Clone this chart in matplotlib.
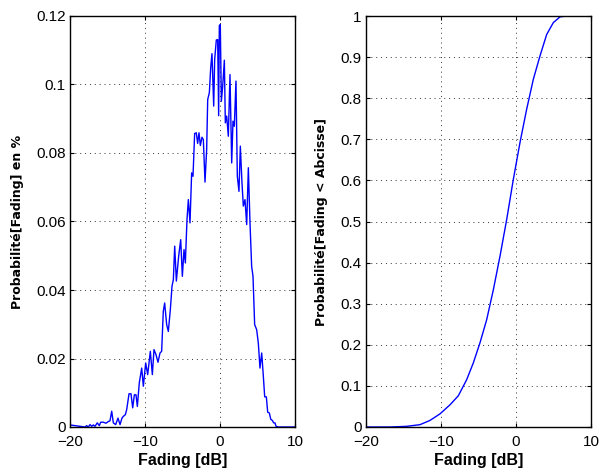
import matplotlib
matplotlib.use("Agg")
import matplotlib.pyplot as plt

# left panel: fading histogram (dB, probability)
pdf_x = [-20, -18.0, -17.78, -17.56, -17.33, -17.1, -16.89, -16.67, -16.36, -16.09,
         -15.91, -15.56, -15.2, -14.89, -14.67, -14.44, -14.22, -13.91, -13.6, -13.33,
         -13.07, -12.89, -12.62, -12.44, -12.13, -11.87, -11.64, -11.42, -11.2, -11.02,
         -10.76, -10.44, -10.22, -9.91, -9.64, -9.29, -9.02, -8.8, -8.53, -8.27,
         -8.0, -7.78, -7.56, -7.38, -7.11, -6.89, -6.62, -6.4, -6.22, -6.04,
         -5.82, -5.51, -5.24, -5.02, -4.8, -4.62, -4.4, -4.22, -4.0, -3.78,
         -3.6, -3.38, -3.16, -2.98, -2.8, -2.62, -2.4, -2.22, -2.0, -1.78,
         -1.64, -1.42, -1.24, -1.07, -0.84, -0.71, -0.49, -0.31, -0.18, -0.09,
         0.04, 0.18, 0.36, 0.58, 0.71, 0.89, 1.11, 1.33, 1.56, 1.73,
         1.91, 2.13, 2.31, 2.53, 2.71, 2.93, 3.11, 3.33, 3.56, 3.78,
         4.0, 4.22, 4.4, 4.62, 4.89, 5.11, 5.33, 5.56, 5.78, 5.96,
         6.18, 6.36, 6.58, 6.76, 6.98, 7.16, 7.33, 7.47, 7.78, 10]
pdf_y = [0.0006, 0, 0.0004, 0, 0.0007, 0.0002, 0.0006, 0.0002, 0.0012, 0.0004,
         0.0014, 0.0014, 0.0011, 0.0016, 0.0018, 0.0046, 0.0012, 0.0007, 0.0026, 0.0007,
         0.0026, 0.0031, 0.0036, 0.0051, 0.0097, 0.0097, 0.0056, 0.0094, 0.0094, 0.0060,
         0.0129, 0.0172, 0.0119, 0.0187, 0.0153, 0.0221, 0.0153, 0.0226, 0.0211, 0.0189,
         0.0216, 0.0221, 0.0338, 0.0362, 0.0299, 0.0279, 0.0343, 0.0411, 0.0430, 0.0528,
         0.0426, 0.0499, 0.0547, 0.0440, 0.0518, 0.0479, 0.0606, 0.0664, 0.0596, 0.0742,
         0.0732, 0.0857, 0.0859, 0.0828, 0.0859, 0.0822, 0.0846, 0.0839, 0.0715, 0.0810,
         0.0956, 0.0976, 0.1049, 0.1090, 0.0937, 0.1073, 0.1130, 0.1131, 0.0909, 0.1172,
         0.1175, 0.0951, 0.0995, 0.1071, 0.0888, 0.0908, 0.0849, 0.1029, 0.0771, 0.0893,
         0.0878, 0.1010, 0.0732, 0.0688, 0.0820, 0.0713, 0.0645, 0.0664, 0.0591, 0.0757,
         0.0596, 0.0469, 0.0440, 0.0299, 0.0284, 0.0245, 0.0172, 0.0216, 0.0148, 0.0088,
         0.0088, 0.0043, 0.0041, 0.0023, 0.0019, 0.0012, 0.0012, 0.0002, 0, 0]

# right panel: cumulative distribution
cdf_x = [-20, -16.8, -14.58, -12.8, -11.47, -10.13, -8.8, -7.69, -6.58, -5.69,
         -4.8, -3.91, -3.02, -2.13, -1.24, -0.36, 0.53, 1.42, 2.31, 3.2,
         4.09, 4.98, 5.87, 6.76, 10]
cdf_y = [0, 0, 0.0016, 0.0057, 0.016, 0.032, 0.054, 0.076, 0.115, 0.156,
         0.205, 0.261, 0.334, 0.416, 0.505, 0.602, 0.692, 0.773, 0.846, 0.903,
         0.955, 0.984, 0.998, 1.0, 1.0]

plt.rcParams["font.family"] = ["Liberation Sans", "DejaVu Sans"]
plt.rcParams["font.size"] = 11

fig = plt.figure(figsize=(6.01, 4.70), dpi=100)
ax1 = fig.add_axes([70 / 601, 43 / 470, 225 / 601, 411 / 470])
ax2 = fig.add_axes([366 / 601, 43 / 470, 225 / 601, 411 / 470])

ax1.plot(pdf_x, pdf_y, color="#0000ff", lw=1)
ax1.set_ylim(0, 0.12)
ax1.set_yticks([0, 0.02, 0.04, 0.06, 0.08, 0.1, 0.12])
ax1.set_yticklabels(["0", "0.02", "0.04", "0.06", "0.08", "0.1", "0.12"])
ax1.set_ylabel("Probabilité[Fading] en %", family="DejaVu Sans", fontweight="bold",
               fontsize=9, labelpad=9)

ax2.plot(cdf_x, cdf_y, color="#0000ff", lw=1)
ax2.set_ylim(0, 1)
ax2.set_yticks([i / 10 for i in range(11)])
ax2.set_yticklabels(["0"] + ["%.1f" % (i / 10) for i in range(1, 10)] + ["1"])
ax2.set_ylabel("Probabilité[Fading < Abcisse]", family="DejaVu Sans", fontweight="bold",
               fontsize=9, labelpad=9)

for ax in (ax1, ax2):
    ax.set_xlim(-20, 10)
    ax.set_xticks([-20, -10, 0, 10])
    ax.set_xlabel("Fading [dB]", fontweight="bold", fontsize=11.5, labelpad=3)
    ax.grid(True, color="#333333", ls=(0, (1, 4)), lw=0.7)
    ax.tick_params(direction="in", top=True, right=True, length=3, width=0.8, pad=3)
    ax.tick_params(axis="x", pad=6)
    for s in ax.spines.values():
        s.set_linewidth(1.0)

fig.savefig("out.png", dpi=100)
